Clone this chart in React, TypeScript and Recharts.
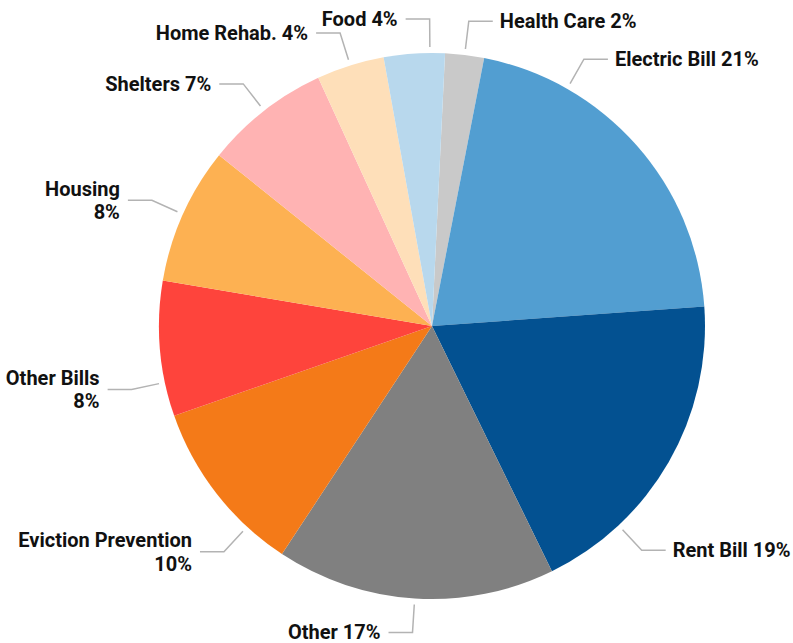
import { PieChart, Pie, Cell } from 'recharts';

const categories = [
  'Health Care',
  'Electric Bill',
  'Rent Bill',
  'Other',
  'Eviction Prevention',
  'Other Bills',
  'Housing',
  'Shelters',
  'Home Rehab.',
  'Food',
];
const shares = [2.3, 20.8, 18.9, 16.5, 10.4, 8.0, 8.1, 7.4, 4.0, 3.6];
const colors = [
  '#c9c9c9',
  '#529ed1',
  '#035191',
  '#808080',
  '#f47a18',
  '#fe443c',
  '#fdb152',
  '#ffb3b3',
  '#fedfb9',
  '#b8d8ed',
];
// labels that break onto two lines
const wrapped = ['Eviction Prevention', 'Other Bills', 'Housing'];
// connector angle nudges (degrees clockwise) to keep labels clear
const labelShift = [0, -18.8, 17, 0, -9.4, -7.1, 0, 0, 0, 3.3];

const data = categories.map((name, i) => ({ name, value: shares[i] }));

const RAD = Math.PI / 180;

const renderLabel = (props: any) => {
  const { cx, cy, midAngle, outerRadius, percent, index, name } = props;
  const cw = 90 - midAngle + labelShift[index];
  const sx = Math.sin(cw * RAD);
  const sy = -Math.cos(cw * RAD);
  const x1 = cx + (outerRadius + 6) * sx;
  const y1 = cy + (outerRadius + 6) * sy;
  const x2 = cx + (outerRadius + 34) * sx;
  const y2 = cy + (outerRadius + 34) * sy;
  const right = sx >= 0;
  const x3 = x2 + (right ? 24 : -24);
  const tx = x3 + (right ? 7 : -8);
  const pct = `${Math.round(percent * 100)}%`;
  const wrap = wrapped.includes(name);
  return (
    <g>
      <polyline
        points={`${x1},${y1} ${x2},${y2} ${x3},${y2}`}
        fill="none"
        stroke="#b3b3b3"
        strokeWidth={1.5}
      />
      <text
        x={tx}
        y={y2}
        textAnchor={right ? 'start' : 'end'}
        dominantBaseline="central"
        fill="#111"
        style={{ fontFamily: 'Roboto, sans-serif', fontWeight: 700, fontSize: 20 }}
      >
        {wrap ? (
          <>
            <tspan x={tx} y={y2 - 11.5}>{name}</tspan>
            <tspan x={tx} y={y2 + 12}>{pct}</tspan>
          </>
        ) : (
          `${name} ${pct}`
        )}
      </text>
    </g>
  );
};

export default function App() {
  return (
    <div style={{ position: 'absolute', left: 0, top: 0 }}>
      <PieChart
        width={793}
        height={643}
        margin={{ top: 0, right: 0, bottom: 0, left: 0 }}
      >
        <Pie
          data={data}
          dataKey="value"
          nameKey="name"
          cx={432}
          cy={326}
          outerRadius={273}
          startAngle={87.26}
          endAngle={-272.74}
          stroke="none"
          label={renderLabel}
          labelLine={false}
          isAnimationActive={false}
        >
          {data.map((d, i) => (
            <Cell key={d.name} fill={colors[i]} />
          ))}
        </Pie>
      </PieChart>
    </div>
  );
}
